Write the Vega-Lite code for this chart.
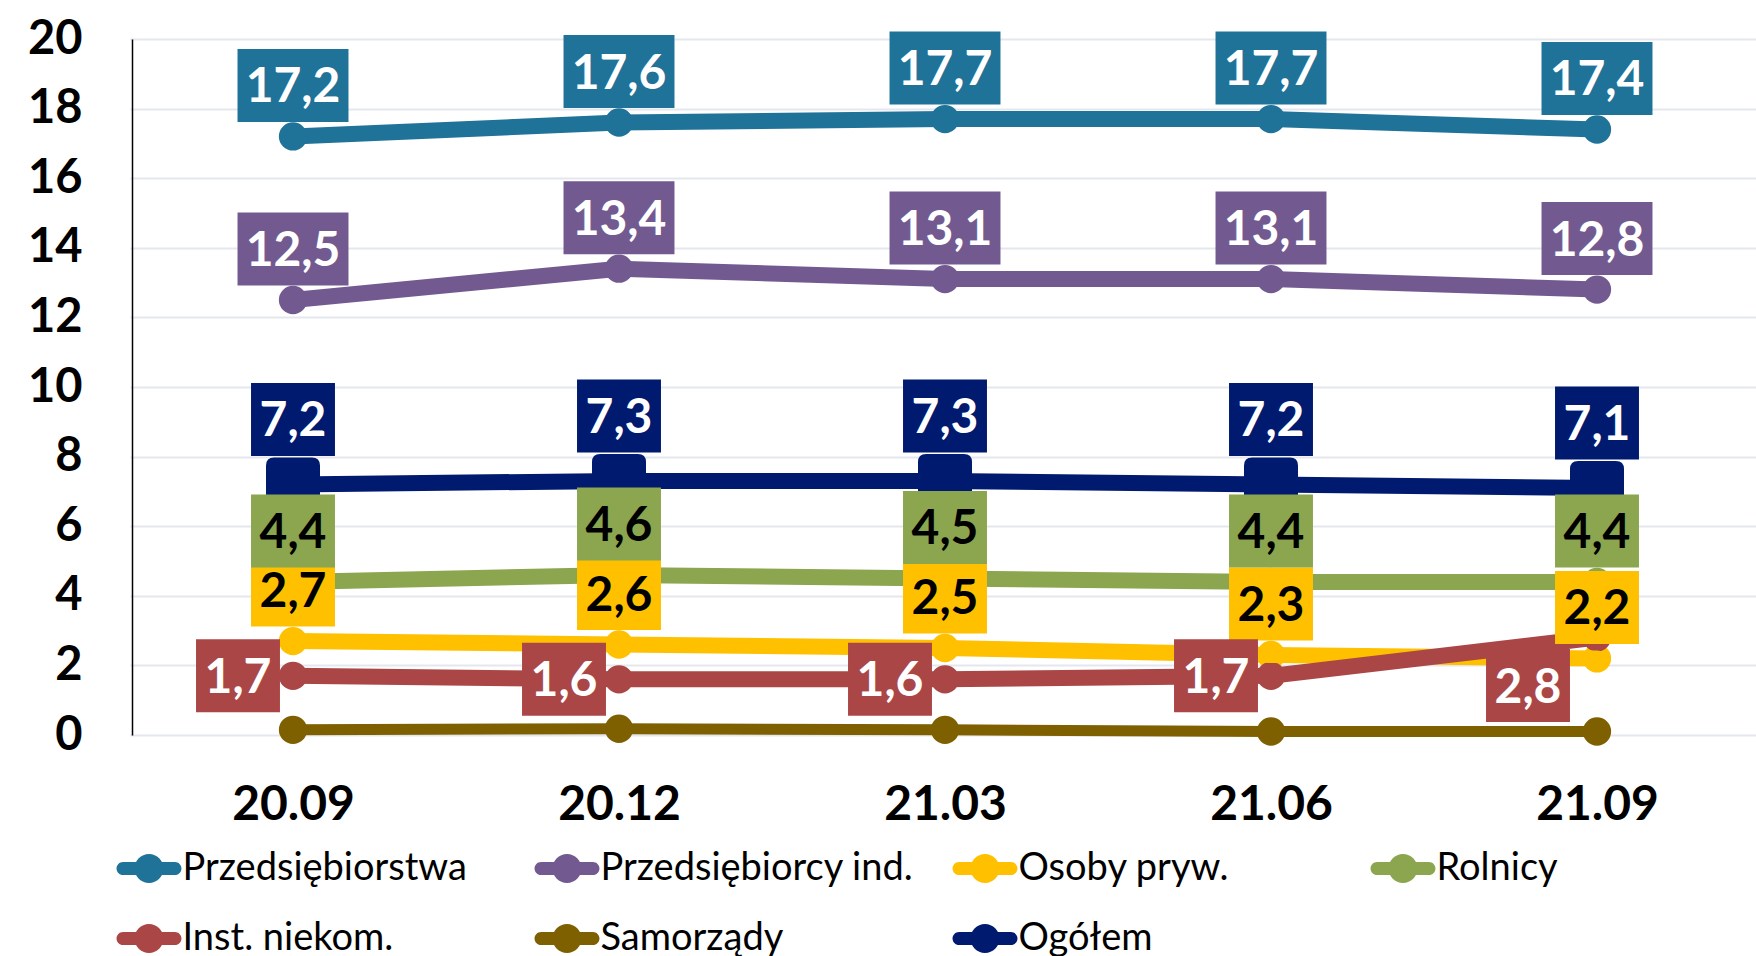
{
  "$schema": "https://vega.github.io/schema/vega-lite/v6.json",
  "width": 1624,
  "height": 696,
  "autosize": {"type": "none"},
  "padding": {"left": 132, "top": 39, "right": 0, "bottom": 221},
  "background": "white",
  "config": {
    "view": {"stroke": null},
    "font": "Lato",
    "locale": {"number": {"decimal": ",", "thousands": " ", "grouping": [3], "currency": ["", " zł"]}}
  },
  "data": {
    "values": [
      {"series": "Przedsiębiorstwa", "date": "20.09", "v": 17.2},
      {"series": "Przedsiębiorstwa", "date": "20.12", "v": 17.6},
      {"series": "Przedsiębiorstwa", "date": "21.03", "v": 17.7},
      {"series": "Przedsiębiorstwa", "date": "21.06", "v": 17.7},
      {"series": "Przedsiębiorstwa", "date": "21.09", "v": 17.4},
      {"series": "Przedsiębiorcy ind.", "date": "20.09", "v": 12.5},
      {"series": "Przedsiębiorcy ind.", "date": "20.12", "v": 13.4},
      {"series": "Przedsiębiorcy ind.", "date": "21.03", "v": 13.1},
      {"series": "Przedsiębiorcy ind.", "date": "21.06", "v": 13.1},
      {"series": "Przedsiębiorcy ind.", "date": "21.09", "v": 12.8},
      {"series": "Osoby pryw.", "date": "20.09", "v": 2.7},
      {"series": "Osoby pryw.", "date": "20.12", "v": 2.6},
      {"series": "Osoby pryw.", "date": "21.03", "v": 2.5},
      {"series": "Osoby pryw.", "date": "21.06", "v": 2.3},
      {"series": "Osoby pryw.", "date": "21.09", "v": 2.2},
      {"series": "Rolnicy", "date": "20.09", "v": 4.4},
      {"series": "Rolnicy", "date": "20.12", "v": 4.6},
      {"series": "Rolnicy", "date": "21.03", "v": 4.5},
      {"series": "Rolnicy", "date": "21.06", "v": 4.4},
      {"series": "Rolnicy", "date": "21.09", "v": 4.4},
      {"series": "Inst. niekom.", "date": "20.09", "v": 1.7},
      {"series": "Inst. niekom.", "date": "20.12", "v": 1.6},
      {"series": "Inst. niekom.", "date": "21.03", "v": 1.6},
      {"series": "Inst. niekom.", "date": "21.06", "v": 1.7},
      {"series": "Inst. niekom.", "date": "21.09", "v": 2.8},
      {"series": "Samorządy", "date": "20.09", "v": 0.15},
      {"series": "Samorządy", "date": "20.12", "v": 0.18},
      {"series": "Samorządy", "date": "21.03", "v": 0.15},
      {"series": "Samorządy", "date": "21.06", "v": 0.1},
      {"series": "Samorządy", "date": "21.09", "v": 0.1},
      {"series": "Ogółem", "date": "20.09", "v": 7.2},
      {"series": "Ogółem", "date": "20.12", "v": 7.3},
      {"series": "Ogółem", "date": "21.03", "v": 7.3},
      {"series": "Ogółem", "date": "21.06", "v": 7.2},
      {"series": "Ogółem", "date": "21.09", "v": 7.1}
    ]
  },
  "encoding": {
    "x": {
      "field": "date", "type": "nominal", "sort": null,
      "scale": {"type": "point", "padding": 0.5, "range": [-2, 1628]},
      "axis": {"title": null, "domain": false, "ticks": false, "tickSize": 0, "grid": false, "labelAngle": 0,
               "labelFont": "Lato", "labelFontWeight": "bold", "labelFontSize": 48, "labelColor": "#000000",
               "labelBaseline": "middle", "labelPadding": 70}
    },
    "y": {
      "field": "v", "type": "quantitative",
      "scale": {"domain": [0, 20], "nice": false, "zero": true},
      "axis": {"title": null, "values": [0, 2, 4, 6, 8, 10, 12, 14, 16, 18, 20], "domain": true, "domainColor": "#000000", "domainWidth": 1.5,
               "ticks": false, "tickSize": 0, "grid": true, "gridColor": "#E4E8EE", "gridWidth": 2,
               "labelFont": "Lato", "labelFontWeight": "bold", "labelFontSize": 47, "labelColor": "#000000",
               "labelBaseline": "middle", "labelPadding": 50}
    }
  },
  "layer": [
    {
      "transform": [{"filter": "datum.series !== 'Ogółem'"}],
      "mark": {"type": "point", "filled": true, "opacity": 1, "strokeWidth": 0, "size": 800},
      "encoding": {
        "color": {"field": "series", "type": "nominal",
                  "scale": {"domain": ["Przedsiębiorstwa", "Przedsiębiorcy ind.", "Osoby pryw.", "Rolnicy", "Inst. niekom.", "Samorządy", "Ogółem"],
                            "range": ["#1F7298", "#725A91", "#FFC000", "#8BA64F", "#AA4746", "#7F6000", "#001A70"]},
                  "legend": {"title": null, "orient": "none", "legendX": -2, "legendY": 810.5, "direction": "horizontal",
                             "columns": 4, "gridAlign": "all", "columnPadding": 38, "rowPadding": 32,
                             "symbolType": "M-1.79,-0.45L1.79,-0.45A0.45,0.45 0 0,1 1.79,0.45L-1.79,0.45A0.45,0.45 0 0,1 -1.79,-0.45Z M0,-1A1,1 0 1,1 0,1A1,1 0 1,1 0,-1Z",
                             "symbolSize": 841, "symbolStrokeWidth": 0, "symbolOpacity": 1,
                             "labelFont": "Lato", "labelFontSize": 38, "labelColor": "#000000", "labelOffset": 14.5, "labelLimit": 600, "padding": 0}}
      }
    },
    {
      "mark": {"type": "line", "strokeCap": "round", "strokeJoin": "round"},
      "encoding": {
        "color": {"field": "series", "type": "nominal"},
        "strokeWidth": {"condition": {"test": "datum.series === 'Samorządy'", "value": 11}, "value": 16}
      }
    },
    {
      "transform": [{"filter": "datum.series === 'Ogółem'"}],
      "mark": {"type": "point", "filled": true, "opacity": 1, "strokeWidth": 0, "size": 2916,
               "shape": "M-0.7,-1L0.7,-1Q1,-1 1,-0.7L1,0.7Q1,1 0.7,1L-0.7,1Q-1,1 -1,0.7L-1,-0.7Q-1,-1 -0.7,-1Z"},
      "encoding": {"color": {"field": "series", "type": "nominal"}}
    },
    {
      "transform": [{"filter": "datum.series === 'Przedsiębiorstwa' || datum.series === 'Przedsiębiorcy ind.' || datum.series === 'Rolnicy' || datum.series === 'Osoby pryw.'"}],
      "layer": [
        {
          "mark": {"type": "point", "filled": true, "opacity": 1, "strokeWidth": 0, "size": 5329, "yOffset": -51},
          "encoding": {
            "color": {"field": "series", "type": "nominal"},
            "shape": {"condition": {"test": "datum.v >= 10", "value": "M-1.52,-1L1.52,-1L1.52,1L-1.52,1Z"}, "value": "M-1.15,-1L1.15,-1L1.15,1L-1.15,1Z"}
          }
        },
        {
          "mark": {"type": "text", "font": "Lato", "fontWeight": "bold", "fontSize": 48, "align": "center", "baseline": "alphabetic", "dy": -34},
          "encoding": {
            "text": {"field": "v", "type": "quantitative", "format": ".1f"},
            "color": {"condition": {"test": "datum.series === 'Rolnicy' || datum.series === 'Osoby pryw.'", "value": "#000000"}, "value": "#FFFFFF"}
          }
        }
      ]
    },
    {
      "transform": [{"filter": "datum.series === 'Ogółem'"}],
      "layer": [
        {
          "mark": {"type": "point", "filled": true, "opacity": 1, "strokeWidth": 0, "size": 5329, "yOffset": -65,
                   "shape": "M-1.15,-1L1.15,-1L1.15,1L-1.15,1Z"},
          "encoding": {"color": {"field": "series", "type": "nominal"}}
        },
        {
          "mark": {"type": "text", "font": "Lato", "fontWeight": "bold", "fontSize": 48, "align": "center", "baseline": "alphabetic", "dy": -48, "color": "#FFFFFF"},
          "encoding": {"text": {"field": "v", "type": "quantitative", "format": ".1f"}}
        }
      ]
    },
    {
      "transform": [{"filter": "datum.series === 'Inst. niekom.' && datum.date !== '21.09'"}],
      "layer": [
        {
          "mark": {"type": "point", "filled": true, "opacity": 1, "strokeWidth": 0, "size": 5329, "xOffset": -55,
                   "shape": "M-1.15,-1L1.15,-1L1.15,1L-1.15,1Z"},
          "encoding": {"color": {"field": "series", "type": "nominal"}}
        },
        {
          "mark": {"type": "text", "font": "Lato", "fontWeight": "bold", "fontSize": 48, "align": "center", "baseline": "alphabetic", "dx": -55, "dy": 17, "color": "#FFFFFF"},
          "encoding": {"text": {"field": "v", "type": "quantitative", "format": ".1f"}}
        }
      ]
    },
    {
      "transform": [{"filter": "datum.series === 'Inst. niekom.' && datum.date === '21.09'"}],
      "layer": [
        {
          "mark": {"type": "point", "filled": true, "opacity": 1, "strokeWidth": 0, "size": 5329, "xOffset": -69, "yOffset": 48,
                   "shape": "M-1.15,-1L1.15,-1L1.15,1L-1.15,1Z"},
          "encoding": {"color": {"field": "series", "type": "nominal"}}
        },
        {
          "mark": {"type": "text", "font": "Lato", "fontWeight": "bold", "fontSize": 48, "align": "center", "baseline": "alphabetic", "dx": -69, "dy": 65, "color": "#FFFFFF"},
          "encoding": {"text": {"field": "v", "type": "quantitative", "format": ".1f"}}
        }
      ]
    }
  ]
}
